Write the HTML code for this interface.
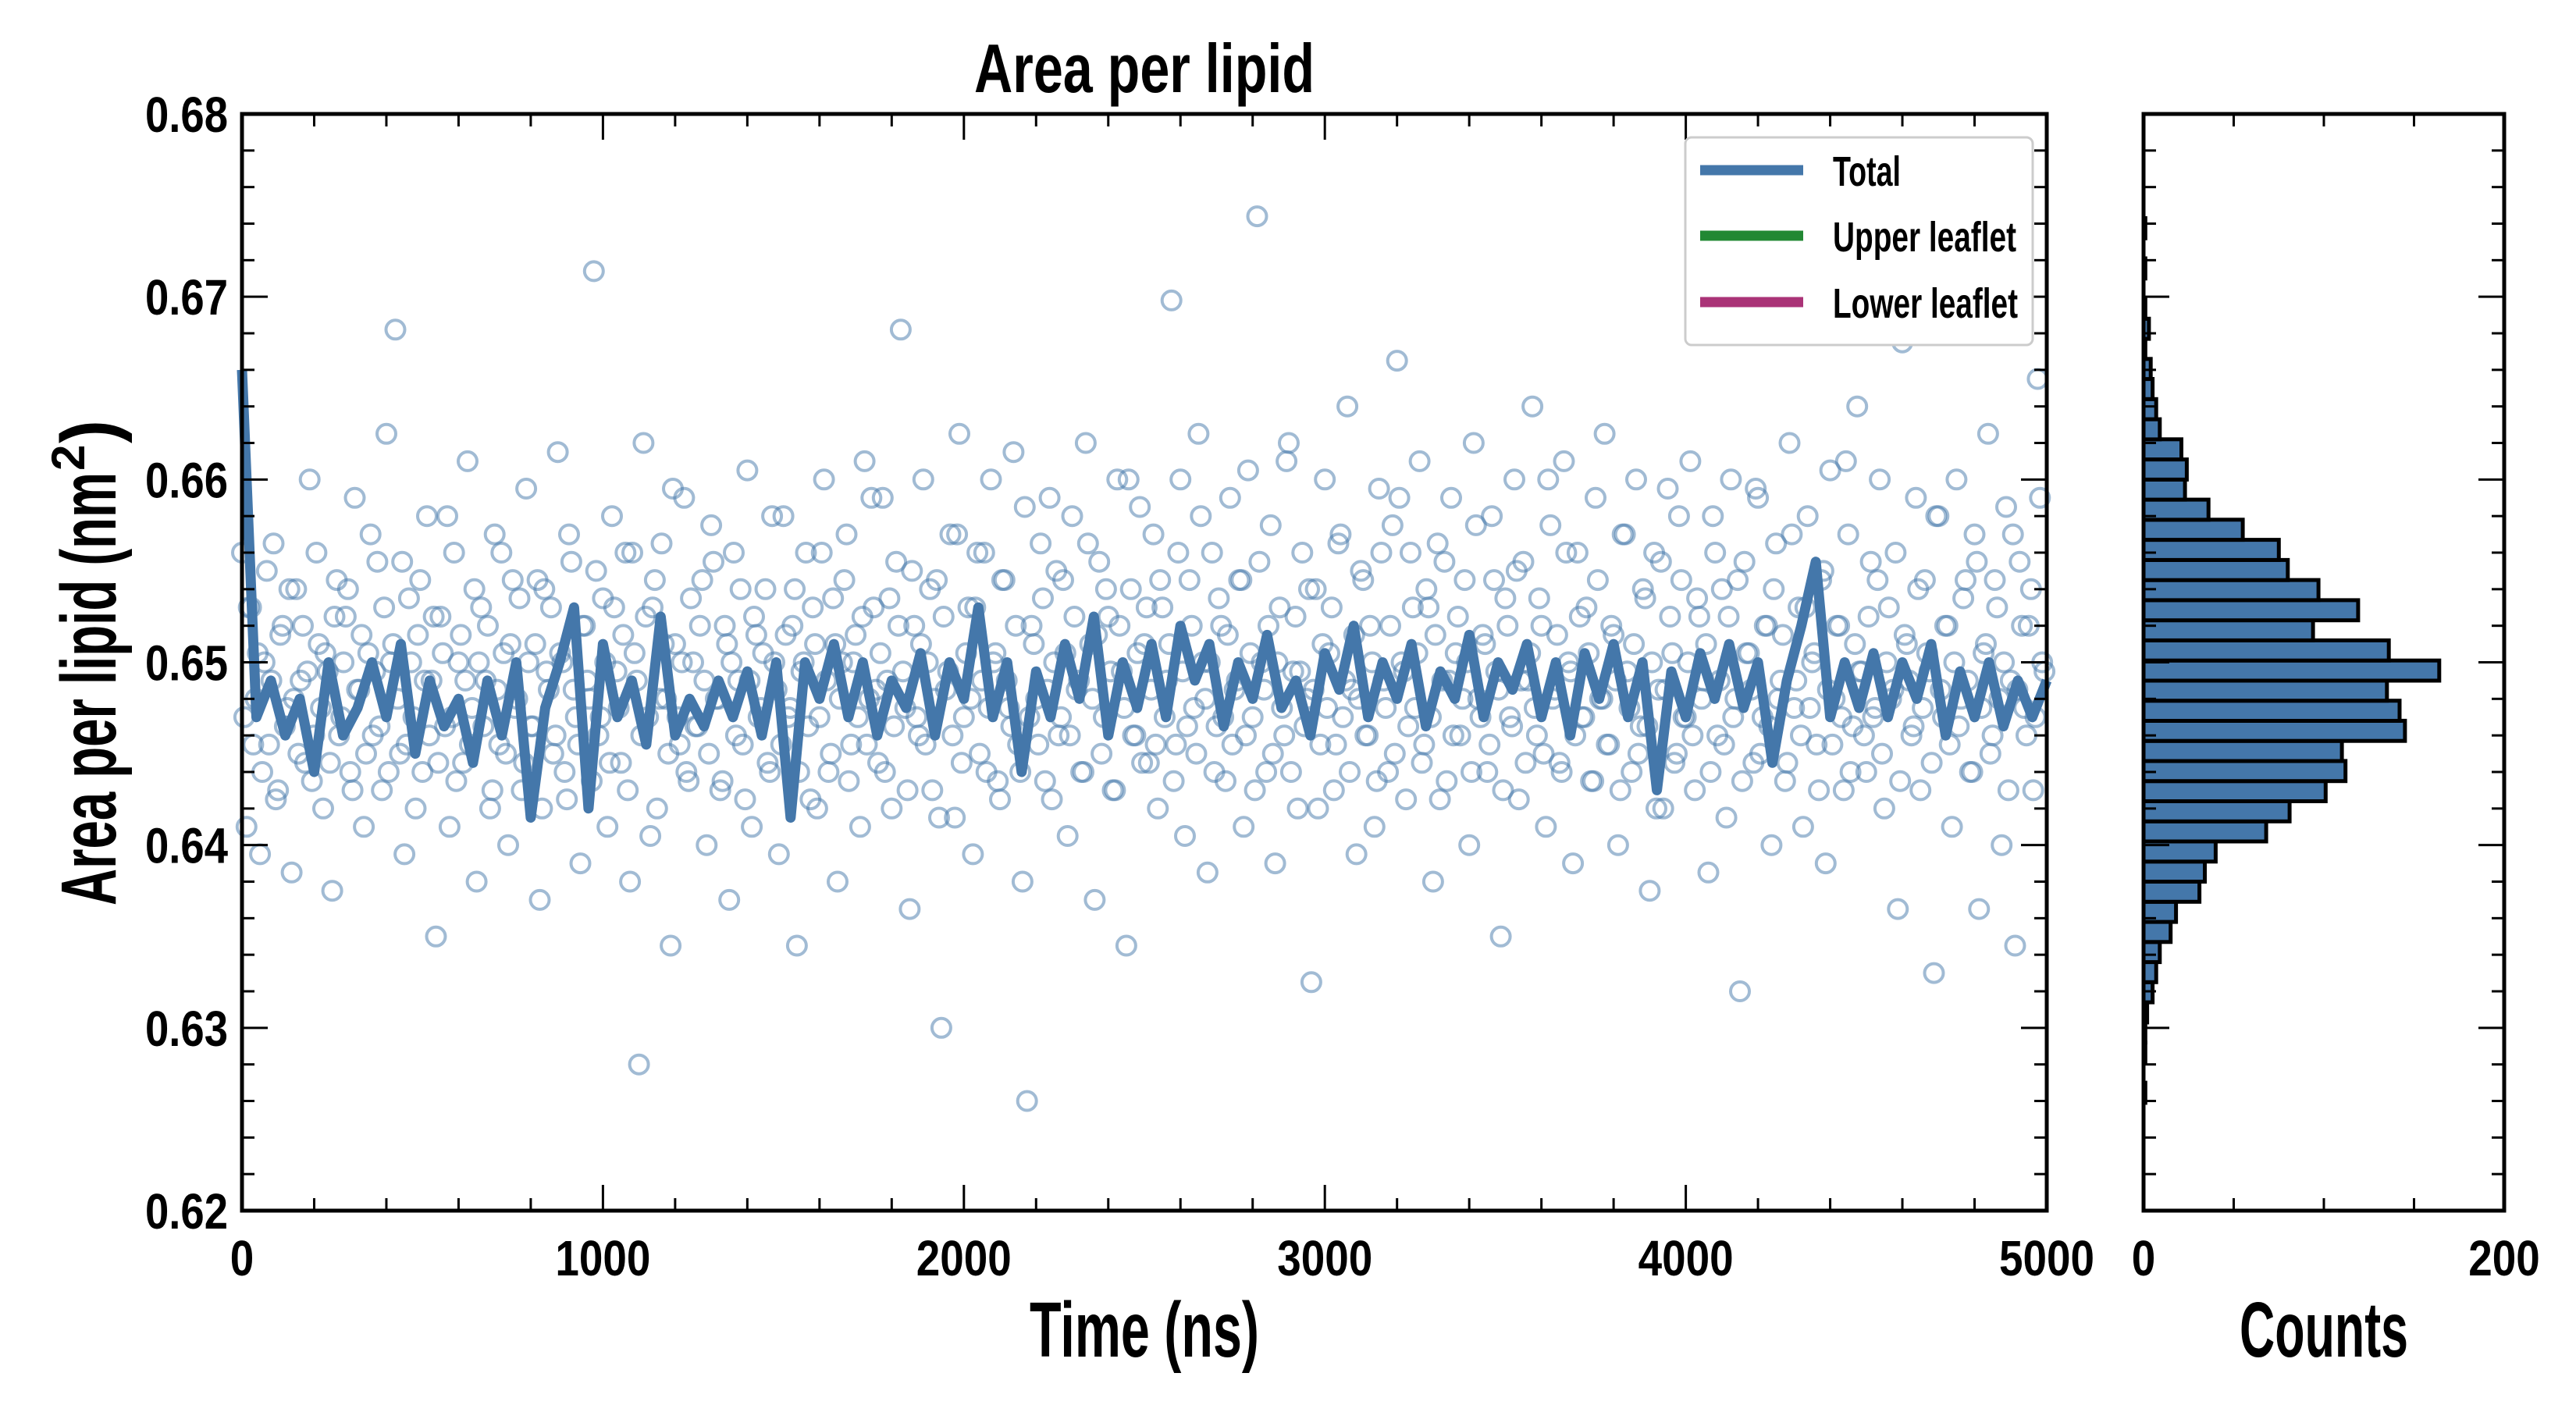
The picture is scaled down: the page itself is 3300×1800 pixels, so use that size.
<!DOCTYPE html>
<html><head><meta charset="utf-8"><style>
html,body{margin:0;padding:0;background:#fff;}
svg{display:block;}
text{font-family:"Liberation Sans Narrow","Liberation Sans",sans-serif;font-weight:bold;fill:#000;}
</style></head><body>
<svg id="chart" width="3300" height="1800" viewBox="0 0 3300 1800" xmlns="http://www.w3.org/2000/svg">
<rect x="0" y="0" width="3300" height="1800" fill="#fff"/>
<g id="main-marks"></g>
<g id="hist-marks"></g>
<g id="axes"></g>
<text x="1466" y="118" font-size="88" text-anchor="middle" textLength="436" lengthAdjust="spacingAndGlyphs">Area per lipid</text>
<text x="1466" y="1738" font-size="100" text-anchor="middle" textLength="294" lengthAdjust="spacingAndGlyphs">Time (ns)</text>
<text x="2977" y="1738" font-size="100" text-anchor="middle" textLength="216" lengthAdjust="spacingAndGlyphs">Counts</text>
<g transform="translate(148,848) rotate(-90)">
<text x="-312" y="0" font-size="100" textLength="555" lengthAdjust="spacingAndGlyphs">Area per lipid (nm</text>
<text x="245" y="-40" font-size="60">2</text>
<text x="280" y="0" font-size="100" textLength="30" lengthAdjust="spacingAndGlyphs">)</text>
</g>
<g>
<rect x="2159" y="176" width="445" height="266" rx="8" fill="#fff" stroke="#ccc" stroke-width="3"/>
<line x1="2178" y1="218" x2="2310" y2="218" stroke="#4477aa" stroke-width="13"/>
<text x="2348" y="238" font-size="54" textLength="87" lengthAdjust="spacingAndGlyphs">Total</text>
<line x1="2178" y1="302" x2="2310" y2="302" stroke="#228833" stroke-width="13"/>
<text x="2348" y="322" font-size="54" textLength="235" lengthAdjust="spacingAndGlyphs">Upper leaflet</text>
<line x1="2178" y1="387" x2="2310" y2="387" stroke="#aa3377" stroke-width="13"/>
<text x="2348" y="407" font-size="54" textLength="237" lengthAdjust="spacingAndGlyphs">Lower leaflet</text>
</g>
</svg>
<script>
// ---- data (area values stored x1e4, i.e. 6485 = 0.6485 nm^2) ----
const scatterStepNs = 12.5;
const scatterValues = [
6560,6410,6530,6480,6395,6500,6455,6565,6430,6520,6475,6385,6540,6490,6445,6600,6460,6510,6420,6495,
6375,6545,6470,6525,6440,6590,6485,6410,6505,6460,6555,6430,6625,6500,6682,6450,6395,6535,6470,6515,
6440,6580,6490,6350,6525,6465,6410,6560,6500,6445,6610,6475,6380,6530,6490,6420,6570,6455,6505,6400,
6545,6480,6430,6595,6465,6510,6370,6540,6485,6450,6615,6500,6425,6555,6470,6390,6520,6480,6714,6460,
6535,6410,6580,6495,6445,6560,6380,6505,6280,6620,6470,6530,6420,6565,6480,6345,6510,6455,6590,6435,
6500,6465,6545,6400,6575,6480,6430,6520,6370,6560,6490,6455,6605,6410,6515,6475,6540,6440,6500,6395,
6580,6470,6520,6345,6495,6560,6425,6510,6470,6600,6440,6535,6380,6500,6570,6455,6515,6410,6610,6480,
6530,6445,6590,6490,6420,6555,6682,6475,6365,6520,6460,6600,6500,6430,6545,6300,6485,6570,6415,6625,
6470,6530,6395,6560,6490,6440,6600,6505,6425,6545,6475,6615,6455,6380,6260,6520,6480,6565,6435,6590,
6500,6460,6545,6405,6580,6485,6440,6620,6510,6370,6555,6470,6525,6430,6600,6495,6345,6540,6460,6585,
6510,6445,6570,6420,6530,6490,6698,6455,6600,6405,6545,6475,6625,6500,6385,6560,6465,6520,6435,6590,
6485,6545,6410,6605,6470,6744,6500,6440,6575,6390,6530,6460,6620,6495,6420,6560,6480,6325,6540,6455,
6600,6505,6430,6565,6470,6640,6485,6395,6550,6460,6520,6410,6595,6490,6440,6575,6665,6500,6425,6560,
6475,6610,6455,6530,6380,6565,6490,6435,6590,6505,6460,6545,6400,6620,6480,6515,6440,6580,6495,6350,
6535,6470,6600,6425,6555,6490,6640,6460,6520,6410,6575,6485,6445,6610,6500,6390,6560,6470,6530,6435,
6590,6480,6625,6455,6515,6400,6570,6495,6440,6600,6465,6535,6375,6560,6485,6420,6595,6505,6450,6545,
6470,6610,6430,6525,6490,6385,6580,6460,6540,6415,6600,6480,6320,6555,6505,6445,6590,6470,6520,6400,
6565,6490,6435,6620,6475,6530,6410,6580,6500,6455,6545,6390,6605,6480,6520,6430,6570,6465,6640,6495,
6440,6555,6475,6600,6420,6530,6485,6365,6675,6510,6460,6590,6430,6545,6495,6330,6580,6470,6520,6410,
6600,6480,6545,6440,6570,6365,6505,6625,6460,6530,6400,6585,6490,6345,6555,6475,6520,6430,6655,6500];
const scatterOffsetNs = 6.25;
const scatterValuesB = [
6470,6530,6455,6505,6440,6550,6490,6425,6515,6465,6540,6480,6450,6520,6495,6435,6560,6475,6505,6445,
6525,6460,6500,6540,6430,6485,6515,6450,6570,6495,6465,6530,6440,6510,6480,6555,6455,6500,6420,6545,
6490,6460,6525,6445,6505,6580,6470,6435,6515,6490,6455,6540,6500,6465,6520,6430,6485,6560,6450,6510,
6475,6535,6445,6500,6465,6545,6420,6495,6530,6460,6505,6440,6570,6485,6455,6520,6490,6435,6550,6470,
6500,6445,6530,6475,6515,6430,6560,6490,6460,6525,6405,6545,6480,6510,6450,6595,6470,6500,6440,6535,
6465,6520,6490,6450,6555,6480,6435,6510,6500,6460,6540,6425,6490,6525,6470,6505,6445,6580,6485,6455,
6515,6475,6540,6440,6500,6465,6530,6420,6560,6490,6450,6510,6480,6545,6435,6500,6470,6525,6455,6590,
6485,6505,6440,6535,6465,6520,6495,6430,6550,6470,6510,6455,6540,6480,6415,6525,6495,6460,6570,6445,
6505,6480,6530,6450,6560,6475,6500,6435,6545,6490,6465,6520,6440,6585,6470,6510,6455,6535,6485,6425,
6550,6470,6505,6460,6525,6490,6440,6565,6480,6515,6450,6540,6495,6430,6520,6475,6600,6460,6505,6445,
6530,6485,6455,6545,6470,6510,6435,6560,6495,6465,6520,6450,6580,6480,6500,6440,6535,6470,6515,6455,
6490,6545,6460,6505,6430,6555,6485,6520,6450,6500,6475,6610,6440,6525,6495,6465,6540,6485,6420,6510,
6475,6530,6455,6570,6490,6440,6515,6480,6545,6460,6500,6435,6560,6475,6520,6450,6590,6495,6465,6530,
6505,6445,6540,6470,6515,6425,6555,6490,6460,6525,6480,6500,6440,6575,6470,6510,6455,6545,6485,6430,
6520,6465,6550,6490,6445,6505,6475,6535,6450,6600,6480,6515,6440,6560,6495,6460,6525,6470,6505,6435,
6545,6480,6455,6520,6490,6430,6570,6475,6510,6450,6540,6465,6500,6420,6555,6485,6525,6445,6580,6470,
6500,6460,6535,6480,6510,6440,6560,6490,6455,6525,6470,6545,6435,6505,6485,6595,6450,6520,6465,6540,
6480,6515,6445,6570,6490,6460,6530,6475,6505,6430,6550,6485,6455,6520,6470,6610,6440,6510,6495,6460,
6525,6470,6545,6450,6500,6480,6560,6435,6515,6490,6465,6540,6475,6505,6445,6580,6485,6520,6455,6500,
6465,6535,6490,6440,6555,6475,6510,6450,6545,6480,6500,6430,6570,6485,6520,6460,6540,6470,6590,6495];
const lineStepNs = 40;
const lineValues = [
6660,6470,6490,6460,6480,6440,6500,6460,6475,6500,6470,6510,6450,6490,6465,6480,6445,6490,6460,6500,
6415,6475,6500,6530,6420,6510,6470,6490,6455,6525,6460,6480,6465,6490,6470,6495,6460,6500,6415,6500,
6480,6510,6470,6500,6460,6490,6475,6505,6460,6500,6480,6530,6470,6500,6440,6495,6470,6510,6480,6525,
6460,6500,6475,6510,6470,6520,6490,6510,6465,6500,6480,6515,6475,6490,6460,6505,6485,6520,6470,6500,
6480,6510,6465,6495,6480,6515,6470,6500,6485,6510,6470,6500,6460,6505,6480,6510,6470,6500,6430,6495,
6470,6505,6480,6510,6475,6500,6445,6490,6520,6555,6470,6500,6475,6505,6470,6500,6480,6510,6460,6495,
6470,6500,6465,6490,6470,6490];
const histBinStart = 0.6259;
const histBinWidth = 0.0011;
const histCounts = [1,0,1,1,2,
5,7,9,15,18,31,34,40,68,81,101,112,110,145,142,135,164,136,94,119,97,80,75,55,36,23,24,21,9,7,5,4,1,3,
1,0,1,0,1];
const xTickLabels = ["0","1000","2000","3000","4000","5000"];
const yTickLabels = ["0.62","0.63","0.64","0.65","0.66","0.67","0.68"];
const histTickLabels = ["0","200"];

// ---- geometry ----
const NS="http://www.w3.org/2000/svg";
const L=310,R=2622,T=146,B=1551,HL=2746,HR=3208;
const X0=0,X1=5000,Y0=0.62,Y1=0.68,C1=200;
const xs=v=>L+(v-X0)/(X1-X0)*(R-L);
const ys=v=>B-(v-Y0)/(Y1-Y0)*(B-T);
const hs=c=>HL+c/C1*(HR-HL);
function mk(tag,attrs,parent){const e=document.createElementNS(NS,tag);for(const k in attrs)e.setAttribute(k,attrs[k]);parent.appendChild(e);return e;}
const main=document.getElementById('main-marks');
const hist=document.getElementById('hist-marks');
const axes=document.getElementById('axes');

// scatter
const sg=mk('g',{},main);


function addPoint(t,v){
  const c=mk('circle',{cx:xs(t).toFixed(1),cy:ys(v/1e4).toFixed(1),r:12,fill:'none',stroke:'#4477aa','stroke-opacity':0.5,'stroke-width':4},sg);
  
  
}
scatterValues.forEach((v,i)=>addPoint(i*scatterStepNs,v));
scatterValuesB.forEach((v,i)=>addPoint(i*scatterStepNs+scatterOffsetNs,v));
// line
const pts=lineValues.map((v,i)=>xs(i*lineStepNs).toFixed(1)+','+ys(v/1e4).toFixed(1)).join(' ');
const pl=mk('polyline',{points:pts,fill:'none',stroke:'#4477aa','stroke-width':13,'stroke-linejoin':'round'},main);



// histogram
histCounts.forEach((c,i)=>{
  if(c<=0)return;
  const y0=ys(histBinStart+i*histBinWidth), y1=ys(histBinStart+(i+1)*histBinWidth);
  const r=mk('rect',{x:HL,y:y1.toFixed(1),width:(hs(c)-HL).toFixed(1),height:(y0-y1).toFixed(1),fill:'#4477aa',stroke:'#000','stroke-width':5},hist);
  
  
});

// axes frames
const f1=mk('rect',{x:L,y:T,width:R-L,height:B-T,fill:'none',stroke:'#000','stroke-width':5},axes);


const f2=mk('rect',{x:HL,y:T,width:HR-HL,height:B-T,fill:'none',stroke:'#000','stroke-width':5},axes);


function tick(x1,y1,x2,y2){mk('line',{x1,y1,x2,y2,stroke:'#000','stroke-width':3},axes);}
const MJ=33,MN=16;
for(let v=0;v<=5000;v+=200){const x=xs(v),len=(v%1000===0)?MJ:MN;tick(x,B,x,B-len);tick(x,T,x,T+len);}
for(let k=0;k<=30;k++){const v=0.62+k*0.002,y=ys(v),len=(k%5===0)?MJ:MN;
  tick(L,y,L+len,y);tick(R,y,R-len,y);tick(HL,y,HL+len,y);tick(HR,y,HR-len,y);}
for(let c=0;c<=200;c+=50){const x=hs(c),len=(c%200===0)?MJ:MN;tick(x,B,x,B-len);tick(x,T,x,T+len);}
xTickLabels.forEach(s=>{
  const t=mk('text',{x:xs(+s),y:1634,'font-size':64,'text-anchor':'middle',textLength:(s.length*30.5),lengthAdjust:'spacingAndGlyphs'},axes);
  t.textContent=s;
  
  
});
yTickLabels.forEach(s=>{
  const t=mk('text',{x:292,y:ys(+s)+23,'font-size':64,'text-anchor':'end',textLength:106,lengthAdjust:'spacingAndGlyphs'},axes);
  t.textContent=s;
  
  
});
histTickLabels.forEach(s=>{
  const t=mk('text',{x:hs(+s),y:1634,'font-size':64,'text-anchor':'middle',textLength:(s.length*30.5),lengthAdjust:'spacingAndGlyphs'},axes);
  t.textContent=s;
  
  
});
</script>
</body></html>
